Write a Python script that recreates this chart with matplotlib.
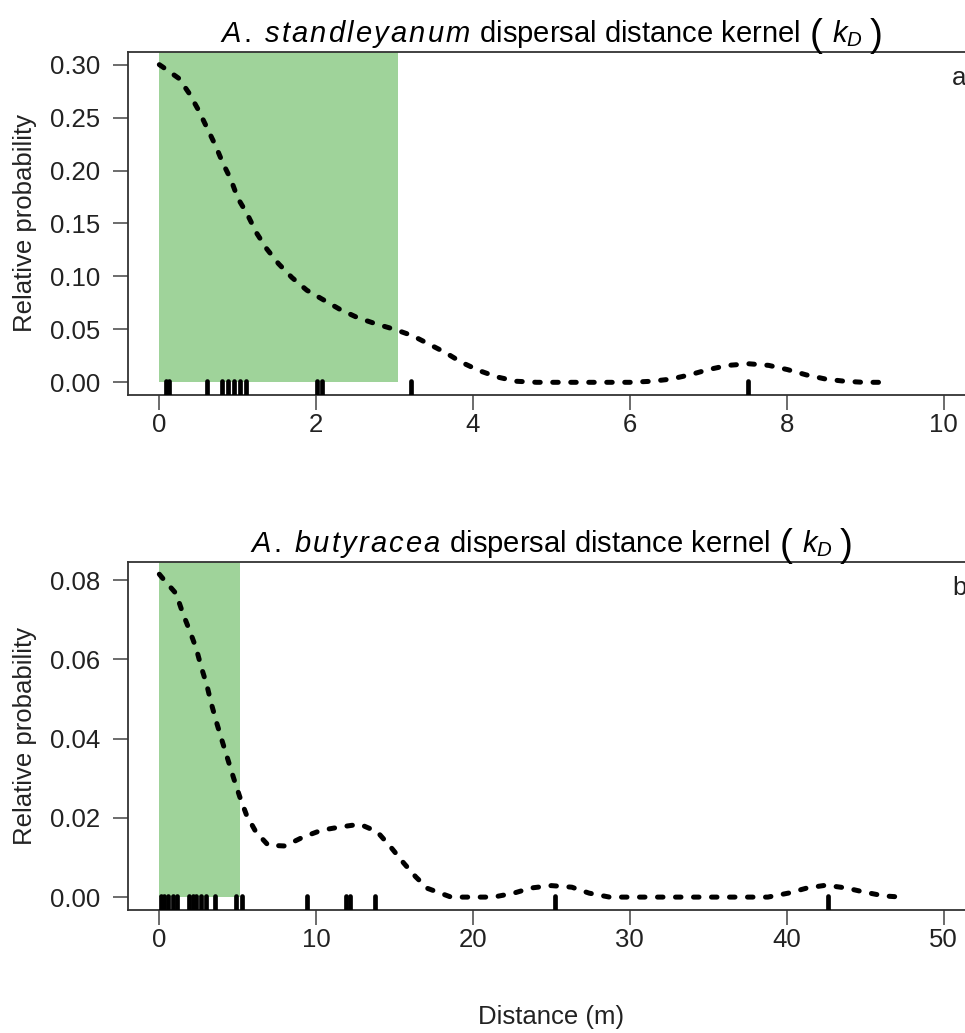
import matplotlib
matplotlib.use('Agg')
import matplotlib.pyplot as plt

plt.rcParams['font.family'] = ['Liberation Sans', 'DejaVu Sans']
plt.rcParams['mathtext.fontset'] = 'custom'
plt.rcParams['mathtext.rm'] = 'Liberation Sans'
plt.rcParams['mathtext.it'] = 'Liberation Sans:italic'
plt.rcParams['mathtext.bf'] = 'Liberation Sans:bold'

# panel a: A. standleyanum kernel
dist_a = [0, 0.04, 0.25, 0.38, 0.50, 0.61, 0.72, 0.81, 0.91, 1.00, 1.12, 1.24,
          1.37, 1.52, 1.69, 1.88, 2.09, 2.30, 2.53, 2.77, 3.00, 3.23, 3.44, 3.65,
          3.85, 4.08, 4.31, 4.55, 4.81, 5.2, 5.6, 6.0, 6.28, 6.52, 6.76, 7.0,
          7.25, 7.52, 7.77, 8.01, 8.25, 8.5, 8.74, 8.98, 9.24]
prob_a = [0.300, 0.298, 0.287, 0.273, 0.257, 0.240, 0.223, 0.207, 0.192, 0.174,
          0.159, 0.141, 0.126, 0.112, 0.099, 0.087, 0.078, 0.069, 0.061, 0.055,
          0.050, 0.044, 0.036, 0.028, 0.019, 0.011, 0.005, 0.001, 0.0, 0.0, 0.0,
          0.0, 0.001, 0.003, 0.007, 0.012, 0.016, 0.0175, 0.016, 0.012, 0.007,
          0.003, 0.001, 0.0, 0.0]
obs_a = [0.08, 0.12, 0.61, 0.80, 0.88, 0.95, 1.03, 1.10, 2.01, 2.08, 3.21, 7.5]
ci_a = 3.04

# panel b: A. butyracea kernel
dist_b = [0, 0.21, 1.07, 1.5, 1.92, 2.35, 2.67, 3.03, 3.31, 3.67, 4.02, 4.38,
          4.74, 5.13, 5.56, 6.15, 6.94, 8.01, 9.19, 10.36, 11.54, 12.78, 13.89,
          14.74, 15.6, 16.35, 17.1, 18.6, 20.1, 21.3, 22.6, 23.7, 25.0, 26.3,
          27.4, 28.7, 31, 34, 36.5, 38.8, 40.1, 41.3, 42.5, 43.8, 44.9, 46.2, 47.3]
prob_b = [0.0815, 0.0805, 0.0766, 0.0716, 0.0674, 0.0628, 0.0581, 0.0535,
          0.0489, 0.0438, 0.0392, 0.0346, 0.0300, 0.0253, 0.0207, 0.0165,
          0.0131, 0.0129, 0.0152, 0.0169, 0.0177, 0.0184, 0.0165, 0.0127,
          0.0085, 0.0051, 0.0022, 0.0, 0.0, 0.0, 0.001, 0.0023, 0.0029, 0.0025,
          0.001, 0.0, 0.0, 0.0, 0.0, 0.0, 0.001, 0.0023, 0.0030, 0.0023, 0.0013,
          0.0003, 0.0]
obs_b = [0.11, 0.32, 0.53, 0.85, 1.11, 1.92, 2.13, 2.35, 2.67, 2.95, 3.53, 4.92,
         5.24, 9.40, 11.92, 12.18, 13.74, 25.2, 42.6]
ci_b = 5.15

species = ['standleyanum', 'butyracea']
xticks_a = [0, 2, 4, 6, 8, 10]
xticks_b = [0, 10, 20, 30, 40, 50]
yticks_a = [0.00, 0.05, 0.10, 0.15, 0.20, 0.25, 0.30]
yticks_b = [0.00, 0.02, 0.04, 0.06, 0.08]

GREEN = '#9fd39a'
TITLE_FS = 21
TITLE_PAD = 7  # points above the axes top, baseline


def spaced_italic(word, gap=0.09):
    # plotmath-style italic with a little air between the letters
    return (r'\hspace{%s}' % gap).join(r'\mathit{%s}' % c for c in word)


def kernel_title(ax, name):
    main = (r'$\mathit{A}\hspace{0.09}\mathit{.}\hspace{0.35}' + spaced_italic(name) +
            r'\hspace{0.4}$dispersal distance kernel')
    t1 = ax.annotate(main, xy=(0.5, 1), xycoords='axes fraction',
                     xytext=(0, TITLE_PAD), textcoords='offset points',
                     ha='left', va='baseline', fontsize=TITLE_FS)
    # big parentheses round k_D, as plotmath's bgroup draws them
    pieces = [('(', 28, 7, -2.5), (r'$k_{D}$', TITLE_FS, 7, 0), (')', 28, 5, -2.5)]
    prev = t1
    chain = [t1]
    for s, fs, gap, dy in pieces:
        t = ax.annotate(s, xy=(1, 1), xycoords=(prev, 'axes fraction'),
                        xytext=(gap, TITLE_PAD + dy), textcoords='offset points',
                        ha='left', va='baseline', fontsize=fs)
        chain.append(t)
        prev = t
    return chain


fig = plt.figure(figsize=(9.65, 10.33), dpi=100)
ax_a = fig.add_axes([0.1326, 0.6176, 0.8777, 0.3321])
ax_b = fig.add_axes([0.1326, 0.1191, 0.8777, 0.3369])

panels = [
    (ax_a, dist_a, prob_a, obs_a, ci_a, xticks_a, yticks_a, (-0.4, 10.4), (-0.012, 0.312), 'a'),
    (ax_b, dist_b, prob_b, obs_b, ci_b, xticks_b, yticks_b, (-2, 52), (-0.00325, 0.0846), 'b'),
]

titles = []
for i, (ax, x, y, obs, ci, xt, yt, xl, yl, tag) in enumerate(panels):
    ax.fill_between([0, ci], 0, yl[1], color=GREEN, lw=0, zorder=1)
    ln, = ax.plot(x, y, color='black', lw=3.6, zorder=3)
    ln.set_dashes([1.1, 2.5])
    ln.set_dash_capstyle('round')
    rug = ax.vlines(obs, 0, 0.04, transform=ax.get_xaxis_transform(),
                    color='black', lw=3.4, zorder=4)
    rug.set_capstyle('round')
    ax.set_xlim(*xl)
    ax.set_ylim(*yl)
    ax.set_xticks(xt)
    ax.set_yticks(yt)
    ax.set_yticklabels(['%.2f' % v for v in yt])
    ax.tick_params(axis='both', length=11, width=1.1, color='#444444',
                   labelsize=18.5, labelcolor='#222222')
    ax.tick_params(axis='x', pad=2)
    ax.tick_params(axis='y', pad=9)
    for sp in ax.spines.values():
        sp.set_color('#333333')
        sp.set_linewidth(1.3)
    titles.append(kernel_title(ax, species[i]))
    ax.set_ylabel('Relative probability', fontsize=18.5, color='#222222')
    ax.yaxis.set_label_coords(-0.107, 0.5)
    ax.text(0.973, 0.925, tag, transform=ax.transAxes, fontsize=18.5,
            ha='left', va='center', color='#222222')

fig.text(0.571, 1 - 1017 / 1033, 'Distance (m)', ha='center', va='center',
         fontsize=18.5, color='#222222')

# centre each composed title over its axes
fig.canvas.draw()
r = fig.canvas.get_renderer()
for ax, chain in zip([ax_a, ax_b], titles):
    left = chain[0].get_window_extent(r).x0
    right = chain[-1].get_window_extent(r).x1
    shift = -(right - left) / 2
    chain[0].xyann = (shift * 72 / fig.dpi, TITLE_PAD)

fig.savefig('out.png', dpi=100)
